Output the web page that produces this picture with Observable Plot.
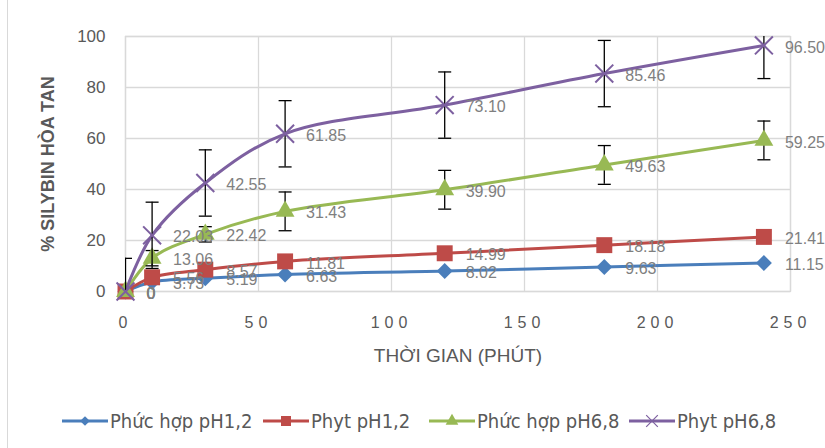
<!DOCTYPE html>
<html><head><meta charset="utf-8">
<script src="https://cdn.jsdelivr.net/npm/d3@7"></script>
<script src="https://cdn.jsdelivr.net/npm/@observablehq/plot@0.6"></script>
<style>
body{margin:0;background:#fff;font-family:"Liberation Sans",Arial,sans-serif;}
#wrap{position:relative;width:825px;height:448px;overflow:hidden;background:#fff;}
#border{position:absolute;left:7px;top:0;width:0;height:448px;border-left:1px solid #d9d9d9;}
#chart{position:absolute;left:0;top:0;}
#legend{position:absolute;top:408px;left:0;width:825px;height:26px;}
.item{position:absolute;top:0;height:26px;display:flex;align-items:center;}
.item span{font-family:"Liberation Sans Narrow","DejaVu Sans Condensed",sans-serif;font-size:20px;color:#595959;white-space:nowrap;}
#chart svg g[aria-label="x-axis tick label"] text{letter-spacing:5px;}
#chart svg g[aria-label="y-axis label"] text{font-weight:bold;font-size:18px;}
#chart svg g[aria-label="x-axis label"] text{font-size:19px;}
</style></head><body>
<div id="wrap"><div id="border"></div><div id="chart"></div><div id="legend"></div></div>
<script>
// ---- data ----
const times = [0, 10, 30, 60, 120, 180, 240];
const phucHopPH12 = [0, 3.73, 5.19, 6.63, 8.02, 9.63, 11.15];
const phytPH12 = [0, 5.56, 8.57, 11.81, 14.99, 18.18, 21.41];
const phucHopPH68 = [0, 13.06, 22.42, 31.43, 39.90, 49.63, 59.25];
const phytPH68 = [0, 22.03, 42.55, 61.85, 73.10, 85.46, 96.50];
const errPhucHopPH68 = [0, 3, 3, 7.6, 7.6, 7.6, 7.6];
const errPhytPH68 = [13, 13, 13, 13, 13, 13, 13];
const seriesNames = ["Phức hợp pH1,2", "Phyt pH1,2", "Phức hợp pH6,8", "Phyt pH6,8"];
const seriesColors = ["#4a7ebb", "#be4b48", "#98b954", "#7d60a0"];
const seriesSymbols = ["diamond2", "square", "triangle", "times"];
const xTicks = [0, 50, 100, 150, 200, 250];
const yTicks = [0, 20, 40, 60, 80, 100];
const xTitle = "THỜI GIAN (PHÚT)";
const yTitle = "% SILYBIN HÒA TAN";

const seriesValues = [phucHopPH12, phytPH12, phucHopPH68, phytPH68];
const seriesErrors = [null, null, errPhucHopPH68, errPhytPH68];
const markerR = [7.2, 9, 7, 8.2];

const seriesRows = seriesValues.map((vals, s) =>
  times.map((t, i) => ({series: seriesNames[s], t, v: vals[i], err: seriesErrors[s] ? seriesErrors[s][i] : 0}))
);
const allRows = seriesRows.flat();
const fmt = v => v === 0 ? "0" : v.toFixed(2);

const capSymbol = {draw(ctx) { ctx.moveTo(-6.5, 0); ctx.lineTo(6.5, 0); }};

const marks = [
  Plot.gridX({ticks: xTicks, stroke: "#d9d9d9", strokeOpacity: 1, strokeWidth: 1.3}),
  Plot.gridY({ticks: yTicks, stroke: "#d9d9d9", strokeOpacity: 1, strokeWidth: 1.3}),
  Plot.frame({stroke: "#d9d9d9", strokeWidth: 1.3}),
  Plot.axisX({ticks: xTicks, tickSize: 0, tickPadding: 25, fontSize: 16, color: "#595959",
    label: xTitle, labelAnchor: "center", labelOffset: 70, labelArrow: "none"}),
  Plot.axisY({ticks: yTicks, tickSize: 0, tickPadding: 20, fontSize: 17, color: "#595959",
    label: yTitle, labelAnchor: "center", labelOffset: 84, labelArrow: "none"})
];
seriesRows.forEach((rows, s) => {
  marks.push(Plot.line(rows, {x: "t", y: "v", stroke: seriesColors[s], strokeWidth: 3, curve: "catmull-rom"}));
  if (seriesErrors[s]) {
    const er = rows.filter(d => d.err > 0);
    marks.push(Plot.ruleX(er, {x: "t", y1: d => d.v - d.err, y2: d => d.v + d.err, stroke: "black", strokeWidth: 1.3, clip: true}));
    marks.push(Plot.dot(er, {x: "t", y: d => d.v + d.err, symbol: capSymbol, stroke: "black", fill: "none", strokeWidth: 1.3, clip: true}));
    marks.push(Plot.dot(er, {x: "t", y: d => d.v - d.err, symbol: capSymbol, stroke: "black", fill: "none", strokeWidth: 1.3, clip: true}));
  }
  if (seriesSymbols[s] === "times") {
    marks.push(Plot.dot(rows, {x: "t", y: "v", symbol: "times", r: markerR[s], stroke: seriesColors[s], strokeWidth: 2}));
  } else {
    marks.push(Plot.dot(rows, {x: "t", y: "v", symbol: seriesSymbols[s], r: markerR[s], fill: seriesColors[s], stroke: "none"}));
  }
});
marks.push(Plot.text(allRows, {x: "t", y: "v", text: d => fmt(d.v), textAnchor: "start", dx: 21, dy: 2, fontSize: 16, fill: "#7f7f7f"}));

const chart = Plot.plot({
  width: 825,
  height: 380,
  marginTop: 36,
  marginBottom: 89,
  marginLeft: 125,
  marginRight: 35,
  style: {fontFamily: "'Liberation Sans', Arial, sans-serif", background: "transparent", overflow: "visible"},
  x: {domain: [0, 250]},
  y: {domain: [0, 100]},
  marks
});
document.getElementById("chart").appendChild(chart);

// legend
const legendX = [62, 263, 429, 629];
const legend = document.getElementById("legend");
seriesNames.forEach((name, s) => {
  const item = document.createElement("div");
  item.className = "item";
  item.style.left = legendX[s] + "px";
  const svg = d3.create("svg").attr("width", 48).attr("height", 26);
  svg.append("line").attr("x1", 0).attr("x2", 46).attr("y1", 13).attr("y2", 13)
    .attr("stroke", seriesColors[s]).attr("stroke-width", 3);
  const symMap = {diamond2: d3.symbolDiamond2, square: d3.symbolSquare, triangle: d3.symbolTriangle, times: d3.symbolTimes};
  const sizes = [60, 100, 70, 90];
  const p = svg.append("path").attr("transform", "translate(23,13)")
    .attr("d", d3.symbol(symMap[seriesSymbols[s]], sizes[s])());
  if (seriesSymbols[s] === "times") p.attr("fill", "none").attr("stroke", seriesColors[s]).attr("stroke-width", 1.2);
  else p.attr("fill", seriesColors[s]);
  item.appendChild(svg.node());
  const span = document.createElement("span");
  span.textContent = name;
  item.appendChild(span);
  legend.appendChild(item);
});
</script>
</body></html>
